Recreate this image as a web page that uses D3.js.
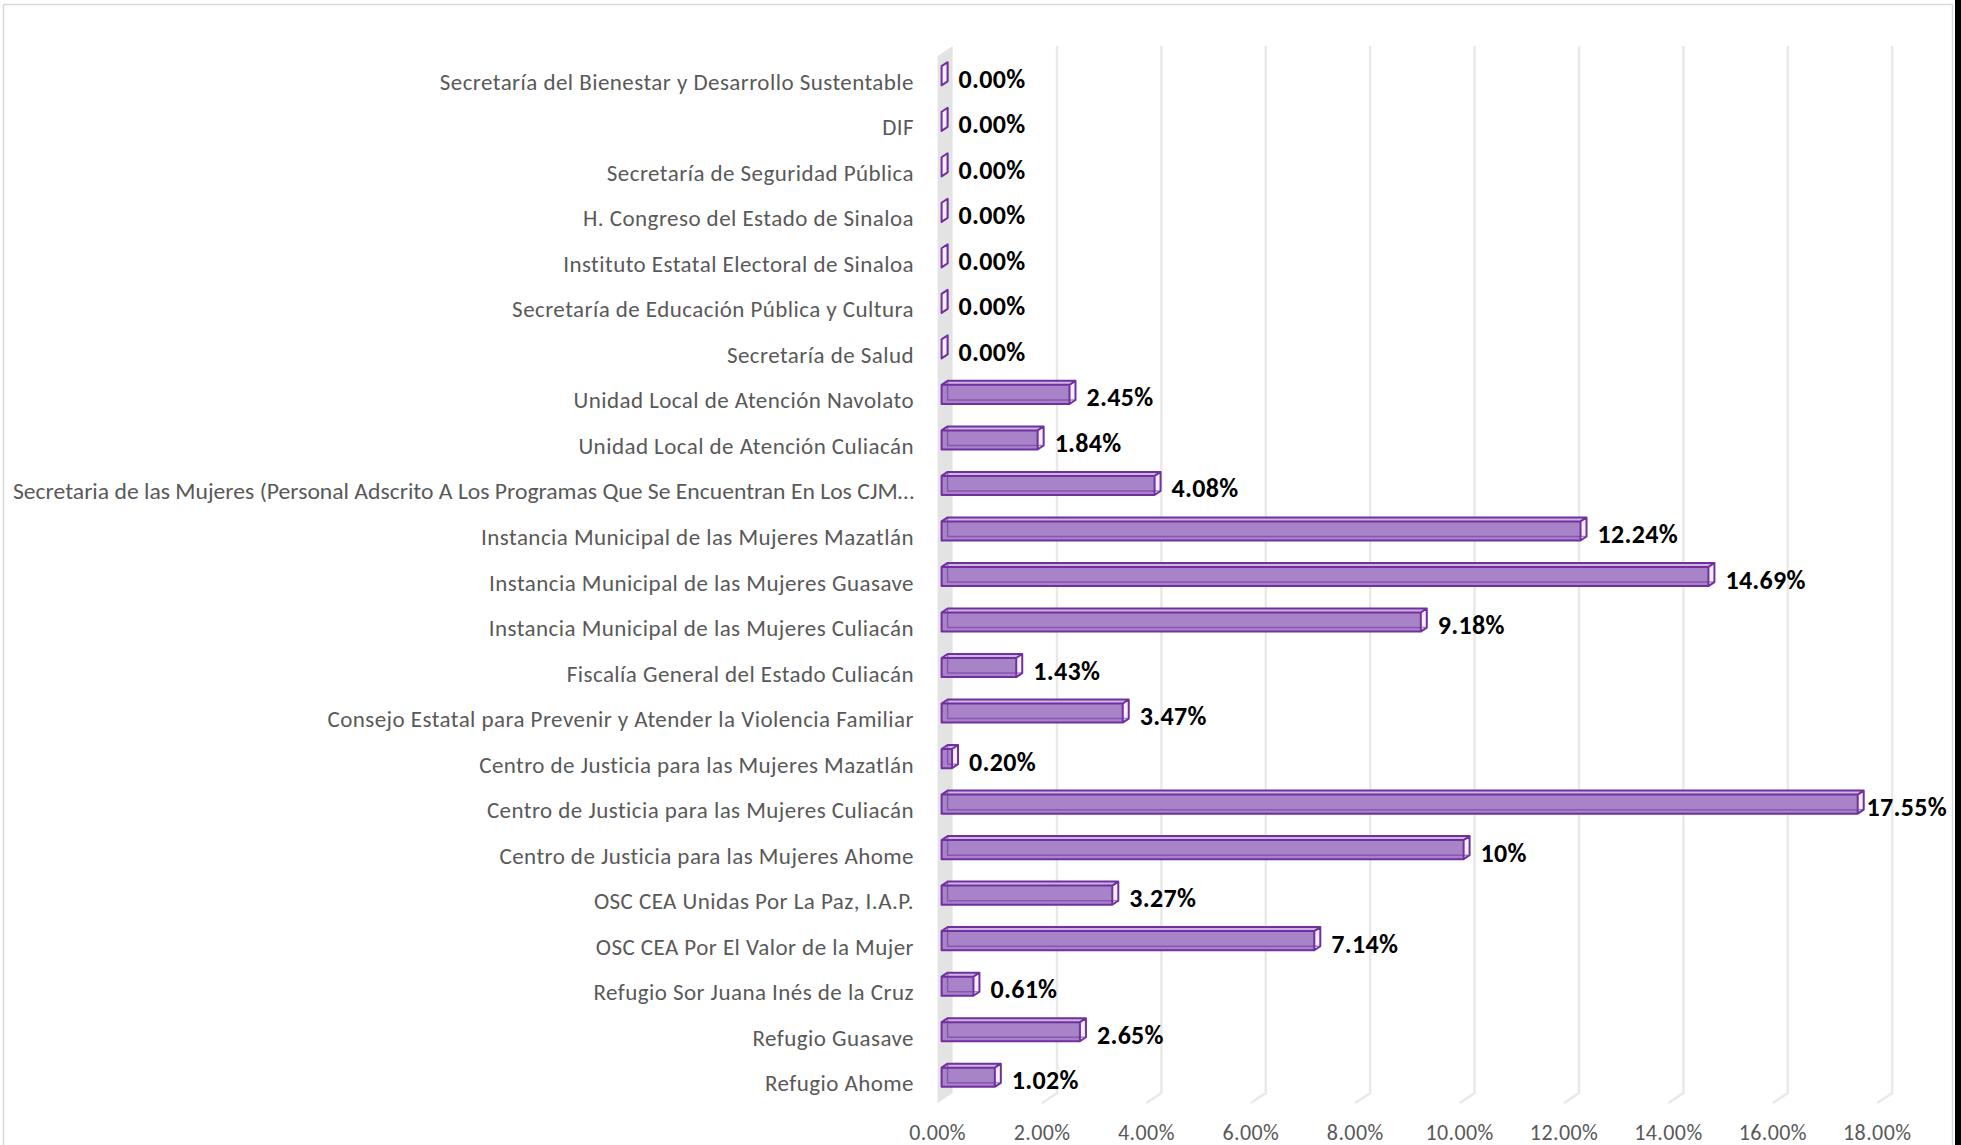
<!DOCTYPE html>
<html>
<head>
<meta charset="utf-8">
<script src="https://cdn.jsdelivr.net/npm/d3@7"></script>
<style>
  body { margin: 0; background: #fff; }
  svg { display: block; }
</style>
</head>
<body>
<div id="chart"></div>
<script>
const WIDTH = 1961;
const HEIGHT = 1145;

// categories, top to bottom as shown
const categories = [
  "Secretaría del Bienestar y Desarrollo Sustentable",
  "DIF",
  "Secretaría de Seguridad Pública",
  "H. Congreso del Estado de Sinaloa",
  "Instituto Estatal Electoral de Sinaloa",
  "Secretaría de Educación Pública y Cultura",
  "Secretaría de Salud",
  "Unidad Local de Atención Navolato",
  "Unidad Local de Atención Culiacán",
  "Secretaria de las Mujeres (Personal Adscrito A Los Programas Que Se Encuentran En Los CJM…",
  "Instancia Municipal de las Mujeres Mazatlán",
  "Instancia Municipal de las Mujeres Guasave",
  "Instancia Municipal de las Mujeres Culiacán",
  "Fiscalía General del Estado Culiacán",
  "Consejo Estatal para Prevenir y Atender la Violencia Familiar",
  "Centro de Justicia para las Mujeres Mazatlán",
  "Centro de Justicia para las Mujeres Culiacán",
  "Centro de Justicia para las Mujeres Ahome",
  "OSC CEA Unidas Por La Paz, I.A.P.",
  "OSC CEA Por El Valor de la Mujer",
  "Refugio Sor Juana Inés de la Cruz",
  "Refugio Guasave",
  "Refugio Ahome"
];

const values = [0, 0, 0, 0, 0, 0, 0, 2.45, 1.84, 4.08, 12.24, 14.69, 9.18, 1.43, 3.47, 0.20, 17.55, 10, 3.27, 7.14, 0.61, 2.65, 1.02];
const valueLabels = ["0.00%", "0.00%", "0.00%", "0.00%", "0.00%", "0.00%", "0.00%", "2.45%", "1.84%", "4.08%", "12.24%", "14.69%", "9.18%", "1.43%", "3.47%", "0.20%", "17.55%", "10%", "3.27%", "7.14%", "0.61%", "2.65%", "1.02%"];

const xTicks = [0, 2, 4, 6, 8, 10, 12, 14, 16, 18];

const FONT = "Carlito, Calibri, Lato, sans-serif";
const PURPLE = "#7030a0";

// 3d depth of the plot (back wall offset)
const DX = 15, DY = -10;
// bar sits inside the depth
const B0X = 4, B0Y = -3, BDX = 6, BDY = -4;

const svg = d3.select("#chart")
  .append("svg")
  .attr("width", WIDTH)
  .attr("height", HEIGHT);

// chart frame
svg.append("rect")
  .attr("x", 3.5).attr("y", 4.5)
  .attr("width", 1949).attr("height", 1160)
  .attr("fill", "#fff")
  .attr("stroke", "#d9d9d9")
  .attr("stroke-width", 1.5);

svg.append("rect")
  .attr("x", 1955).attr("y", 0)
  .attr("width", 6).attr("height", HEIGHT)
  .attr("fill", "#000");

const x = d3.scaleLinear().domain([0, 18]).range([937.6, 1877.2]);
const y = d3.scaleBand().domain(categories).range([56, 1103]).paddingInner(0);

const yTop = y.range()[0], yBot = y.range()[1];

// back wall gridlines + floor
const grid = svg.append("g");
grid.selectAll("path.grid")
  .data(xTicks.slice(1))
  .enter().append("path")
  .attr("class", "grid")
  .attr("d", d => `M${x(d) + DX},${yTop + DY} L${x(d) + DX},${yBot + DY} L${x(d)},${yBot}`)
  .attr("fill", "none")
  .attr("stroke", "#e9e9e9")
  .attr("stroke-width", 2.5);

// side wall at zero
grid.append("path")
  .attr("d", `M${x(0)},${yTop} L${x(0) + DX},${yTop + DY} L${x(0) + DX},${yBot + DY} L${x(0)},${yBot} Z`)
  .attr("fill", "#e3e3e3");

// bars
const barH = y.bandwidth() * 0.42;
const bars = svg.append("g").selectAll("g.bar")
  .data(categories.map((c, i) => ({ c, v: values[i], label: valueLabels[i] })))
  .enter().append("g")
  .attr("class", "bar");

bars.each(function(d) {
  const g = d3.select(this);
  const cy = y(d.c) + y.bandwidth() / 2 + B0Y;
  const xl = x(0) + B0X, xr = x(d.v) + B0X;
  const yt = cy - barH / 2, yb = cy + barH / 2;

  // front face
  g.append("rect")
    .attr("x", xl).attr("y", yt)
    .attr("width", xr - xl).attr("height", barH)
    .attr("fill", "#a983c8");
  // top face
  g.append("path")
    .attr("d", `M${xl},${yt} L${xl + BDX},${yt + BDY} L${xr + BDX},${yt + BDY} L${xr},${yt} Z`)
    .attr("fill", "#cdb6e0");
  // right face
  g.append("path")
    .attr("d", `M${xr},${yt} L${xr + BDX},${yt + BDY} L${xr + BDX},${yb + BDY} L${xr},${yb} Z`)
    .attr("fill", "#f3eef8");
  // hidden back edges seen through
  g.append("path")
    .attr("d", `M${xl + BDX},${yt + BDY} L${xl + BDX},${yb + BDY} L${xr + BDX},${yb + BDY}`)
    .attr("fill", "none")
    .attr("stroke", PURPLE)
    .attr("stroke-opacity", 0.55)
    .attr("stroke-width", 1.5);
  // outline
  g.append("path")
    .attr("d", `M${xl},${yt} L${xl + BDX},${yt + BDY} L${xr + BDX},${yt + BDY} L${xr + BDX},${yb + BDY} L${xr},${yb} L${xl},${yb} Z M${xl},${yt} L${xr},${yt} L${xr + BDX},${yt + BDY} M${xr},${yt} L${xr},${yb}`)
    .attr("fill", "none")
    .attr("stroke", PURPLE)
    .attr("stroke-width", 2)
    .attr("stroke-linejoin", "round");

  // value label
  const t = g.append("text")
    .attr("x", xr + BDX + 11)
    .attr("y", cy + 3)
    .attr("dominant-baseline", "central")
    .attr("font-family", FONT)
    .attr("font-weight", "bold")
    .attr("font-size", 26)
    .attr("letter-spacing", 0.3)
    .attr("fill", "#000")
    .text(d.label);
  const w = t.node().getComputedTextLength();
  if (xr + BDX + 11 + w > 1947) t.attr("x", 1947 - w);
});

// category labels
const LABEL_RIGHT = 914, LABEL_LEFT = 13;
svg.append("g").selectAll("text")
  .data(categories)
  .enter().append("text")
  .attr("x", LABEL_RIGHT)
  .attr("y", d => y(d) + y.bandwidth() / 2 + 3)
  .attr("text-anchor", "end")
  .attr("dominant-baseline", "central")
  .attr("font-family", FONT)
  .attr("font-size", 23)
  .attr("letter-spacing", 0.45)
  .attr("fill", "#595959")
  .text(d => d)
  .each(function() {
    // squeeze the long label so it stays inside the frame
    const w = this.getComputedTextLength();
    if (w > LABEL_RIGHT - LABEL_LEFT) {
      d3.select(this)
        .attr("letter-spacing", null)
        .attr("textLength", LABEL_RIGHT - LABEL_LEFT)
        .attr("lengthAdjust", "spacingAndGlyphs");
    }
  });

// x tick labels
svg.append("g").selectAll("text")
  .data(xTicks)
  .enter().append("text")
  .attr("x", d => x(d))
  .attr("y", 1132)
  .attr("text-anchor", "middle")
  .attr("dominant-baseline", "central")
  .attr("font-family", FONT)
  .attr("font-size", 22)
  .attr("letter-spacing", 0.4)
  .attr("fill", "#595959")
  .text(d => d.toFixed(2) + "%");
</script>
</body>
</html>
